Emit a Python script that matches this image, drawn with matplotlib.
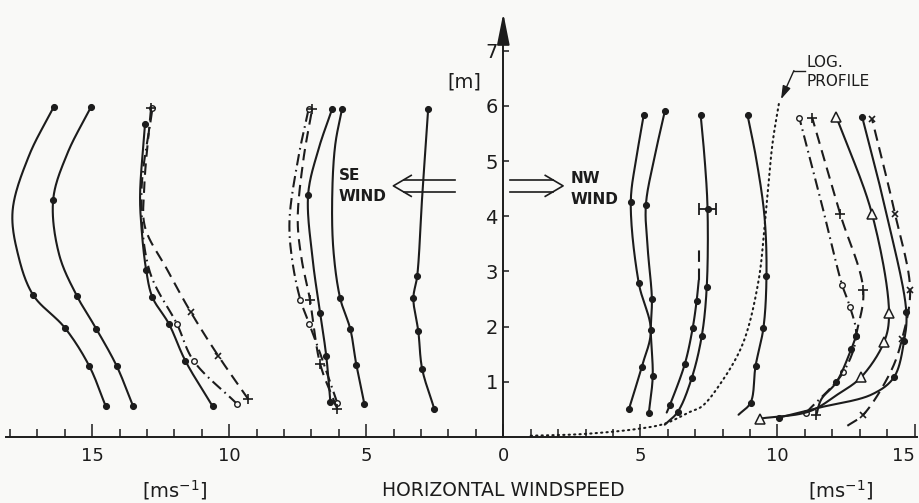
import numpy as np
import matplotlib.pyplot as plt

# heights [m] and windspeeds [m/s]
# SE wind profiles (drawn to the left of the height axis)
se1_h = [0.55, 1.28, 1.98, 2.57, 3.3, 4.1, 5.1, 5.98]
se1_u = [14.5, 15.1, 16.0, 17.15, 17.7, 17.9, 17.3, 16.4]
se1_pt = [1, 1, 1, 1, 0, 0, 0, 1]

se2_h = [0.55, 1.28, 1.96, 2.55, 3.3, 4.3, 5.14, 5.98]
se2_u = [13.5, 14.1, 14.85, 15.55, 16.2, 16.42, 15.9, 15.04]
se2_pt = [1, 1, 1, 1, 0, 1, 0, 1]

se3_h = [0.55, 1.38, 2.05, 2.53, 3.03, 3.8, 4.4, 5.67]
se3_u = [10.6, 11.6, 12.2, 12.8, 13.03, 13.2, 13.25, 13.07]
se3_pt = [1, 1, 1, 1, 1, 0, 0, 1]

se4_h = [0.59, 1.38, 2.04, 3.0, 4.4, 5.96]
se4_u = [9.7, 11.3, 11.9, 12.9, 13.2, 12.8]
se4_pt = [1, 1, 1, 0, 0, 1]

se5_h = [0.68, 1.47, 2.26, 3.03, 3.8, 4.5, 5.96]
se5_u = [9.3, 10.4, 11.4, 12.26, 13.07, 13.1, 12.85]
se5_pt = [1, 0, 0, 0, 0, 0, 1]
se5_x = [0, 1, 1, 0, 0, 0, 0]

se6_h = [0.64, 1.47, 2.24, 3.2, 4.39, 5.2, 5.95]
se6_u = [6.31, 6.46, 6.68, 6.95, 7.12, 6.75, 6.24]
se6_pt = [1, 1, 1, 0, 1, 0, 1]

se7_h = [0.6, 1.3, 1.95, 2.51, 3.4, 4.4, 5.3, 5.95]
se7_u = [5.07, 5.36, 5.58, 5.95, 6.2, 6.24, 6.13, 5.88]
se7_pt = [1, 1, 1, 1, 0, 0, 0, 1]

se8_h = [0.62, 1.4, 2.05, 2.48, 3.2, 3.92, 5.0, 5.95]
se8_u = [6.06, 6.6, 7.08, 7.4, 7.7, 7.8, 7.5, 7.1]
se8_pt = [1, 0, 1, 1, 0, 0, 0, 1]

se9_h = [0.51, 1.32, 2.48, 3.2, 3.92, 5.0, 5.95]
se9_u = [6.06, 6.68, 7.05, 7.35, 7.5, 7.3, 6.97]
se9_pt = [1, 1, 1, 0, 0, 0, 1]

se10_h = [0.51, 1.23, 1.91, 2.51, 2.92, 4.35, 5.95]
se10_u = [2.52, 2.96, 3.1, 3.28, 3.14, 2.96, 2.74]
se10_pt = [1, 1, 1, 1, 1, 0, 1]

# NW wind profiles (drawn to the right)
nw1_h = [0.5, 1.27, 1.93, 2.79, 4.26, 5.1, 5.83]
nw1_u = [4.58, 5.05, 5.38, 4.94, 4.65, 4.87, 5.12]
nw1_pt = [1, 1, 1, 1, 1, 0, 1]

nw2_h = [0.44, 1.1, 1.93, 2.5, 3.4, 4.2, 5.1, 5.9]
nw2_u = [5.31, 5.45, 5.38, 5.42, 5.27, 5.2, 5.53, 5.89]
nw2_pt = [1, 1, 0, 1, 0, 1, 0, 1]

nw3_h = [0.22, 0.45, 1.06, 1.83, 2.71, 4.13, 5.0, 5.83]
nw3_u = [5.89, 6.36, 6.87, 7.24, 7.42, 7.45, 7.35, 7.2]
nw3_pt = [0, 1, 1, 1, 1, 1, 0, 1]
nw3_err = 0.3   # +- at 4.13 m

nw4_h = [0.44, 0.57, 1.32, 1.98, 2.46, 2.84]
nw4_u = [5.96, 6.07, 6.62, 6.91, 7.05, 7.13]
nw4_pt = [0, 1, 1, 1, 1, 0]
nw4_gap_h = [2.84, 3.39]
nw4_gap_u = [7.13, 7.13]

nw5_h = [0.4, 0.62, 1.28, 1.98, 2.92, 3.98, 5.0, 5.83]
nw5_u = [8.58, 9.02, 9.2, 9.49, 9.6, 9.53, 9.24, 8.91]
nw5_pt = [0, 1, 1, 1, 1, 0, 0, 1]

log_h = [0.02, 0.05, 0.15, 0.24, 0.45, 0.55, 0.95, 1.68, 2.8, 3.98, 5.32, 6.09]
log_u = [1.0, 2.9, 5.0, 5.9, 6.8, 7.24, 7.9, 8.73, 9.3, 9.56, 9.82, 10.07]

nw6_h = [0.44, 1.17, 1.83, 2.35, 2.75, 4.17, 5.78]
nw6_u = [11.05, 12.4, 12.87, 12.65, 12.36, 11.64, 10.8]
nw6_pt = [1, 1, 1, 1, 1, 0, 1]

nw7_h = [1.83, 2.66, 4.04, 5.78]
nw7_u = [12.87, 13.13, 12.29, 11.27]
nw7_pt = [0, 1, 1, 1]
nw7_low_h = [0.4, 0.68, 0.99, 1.6, 1.83]
nw7_low_u = [11.42, 11.6, 12.15, 12.7, 12.87]
nw7_low_pt = [0, 0, 1, 1, 1]
nw7_low_plus = [1, 0, 0, 0, 0]

nw8_h = [0.33, 0.46, 0.77, 1.08, 1.72, 2.24, 4.04, 5.8]
nw8_u = [9.35, 11.16, 12.2, 13.05, 13.89, 14.07, 13.45, 12.15]
nw8_pt = [1, 0, 0, 1, 1, 1, 1, 1]

nw9_h = [0.35, 0.53, 0.77, 1.08, 1.74, 2.27, 4.04, 5.8]
nw9_u = [10.07, 11.53, 13.45, 14.25, 14.62, 14.7, 13.98, 13.09]
nw9_pt = [1, 0, 0, 1, 1, 1, 0, 1]

nw10_h = [0.2, 0.4, 1.2, 1.78, 2.66, 4.04, 5.76]
nw10_u = [12.55, 13.13, 14.15, 14.55, 14.84, 14.29, 13.45]
nw10_pt = [0, 1, 0, 1, 1, 1, 1]

x_major = [-15, -10, -5, 0, 5, 10, 15]
x_minor = list(range(-18, 16))
y_ticks = [1, 2, 3, 4, 5, 6, 7]

INK = '#1c1c1c'
BG = '#f9f9f7'

fig = plt.figure(figsize=(9.2, 5.03), dpi=100, facecolor=BG)
ax = fig.add_axes([0, 0, 1, 1], facecolor=BG)
ax.set_xlim(-18.36, 15.2)
ax.set_ylim(-1.2, 7.92)


def smooth(x, y, n=24):
    # centripetal catmull-rom through the read points, done in pixel space
    pts = ax.transData.transform(np.column_stack([x, y]))
    P = np.vstack([2 * pts[0] - pts[1], pts, 2 * pts[-1] - pts[-2]])
    out = []
    for i in range(1, len(P) - 2):
        p0, p1, p2, p3 = P[i - 1:i + 3]
        t0 = 0.0
        t1 = t0 + np.linalg.norm(p1 - p0) ** 0.5
        t2 = t1 + np.linalg.norm(p2 - p1) ** 0.5
        t3 = t2 + np.linalg.norm(p3 - p2) ** 0.5
        t = np.linspace(t1, t2, n)[:, None]
        a1 = (t1 - t) / (t1 - t0) * p0 + (t - t0) / (t1 - t0) * p1
        a2 = (t2 - t) / (t2 - t1) * p1 + (t - t1) / (t2 - t1) * p2
        a3 = (t3 - t) / (t3 - t2) * p2 + (t - t2) / (t3 - t2) * p3
        b1 = (t2 - t) / (t2 - t0) * a1 + (t - t0) / (t2 - t0) * a2
        b2 = (t3 - t) / (t3 - t1) * a2 + (t - t1) / (t3 - t1) * a3
        c = (t2 - t) / (t2 - t1) * b1 + (t - t1) / (t2 - t1) * b2
        out.append(c)
    return ax.transData.inverted().transform(np.vstack(out))


MARK = {
    'dot': dict(marker='o', ms=4.3, mfc=INK, mec=INK, mew=0.8),
    'circle': dict(marker='o', ms=4.0, mfc=BG, mec=INK, mew=1.0),
    'plus': dict(marker='+', ms=6.5, mec=INK, mew=1.2),
    'cross': dict(marker='x', ms=4.5, mec=INK, mew=1.2),
    'tri': dict(marker='^', ms=7, mfc=BG, mec=INK, mew=1.1),
}
LINE = {
    'solid': dict(ls='-'),
    'dash': dict(ls=(0, (5.5, 3.2))),
    'dashdot': dict(ls=(0, (5.5, 2.2, 0.8, 2.2))),
}


def profile(u, h, pts, side, line='solid', mark='dot'):
    x = side * np.asarray(u, float)
    h = np.asarray(h, float)
    c = smooth(x, h)
    ax.plot(c[:, 0], c[:, 1], color=INK, lw=1.5, solid_capstyle='round', **LINE[line])
    sel = np.asarray(pts, bool)
    if sel.any():
        ax.plot(x[sel], h[sel], ls='none', **MARK[mark])


profile(se1_u, se1_h, se1_pt, -1)
profile(se2_u, se2_h, se2_pt, -1)
profile(se3_u, se3_h, se3_pt, -1)
profile(se4_u, se4_h, se4_pt, -1, 'dashdot', 'circle')
profile(se5_u, se5_h, se5_pt, -1, 'dash', 'plus')
ax.plot(-np.array(se5_u)[np.array(se5_x, bool)], np.array(se5_h)[np.array(se5_x, bool)],
        ls='none', **MARK['cross'])
profile(se6_u, se6_h, se6_pt, -1)
profile(se7_u, se7_h, se7_pt, -1)
profile(se8_u, se8_h, se8_pt, -1, 'dashdot', 'circle')
profile(se9_u, se9_h, se9_pt, -1, 'dash', 'plus')
profile(se10_u, se10_h, se10_pt, -1)

profile(nw1_u, nw1_h, nw1_pt, 1)
profile(nw2_u, nw2_h, nw2_pt, 1)
profile(nw3_u, nw3_h, nw3_pt, 1)
ax.errorbar(nw3_u[5], nw3_h[5], xerr=nw3_err, fmt='none', ecolor=INK, elinewidth=1.3,
            capsize=4, capthick=1.3)
profile(nw4_u, nw4_h, nw4_pt, 1)
ax.plot(nw4_gap_u, nw4_gap_h, color=INK, lw=1.5, ls=(0, (5.5, 3.2)))
profile(nw5_u, nw5_h, nw5_pt, 1)

lc = smooth(np.array(log_u), np.array(log_h))
ax.plot(lc[:, 0], lc[:, 1], color=INK, lw=1.5, ls=(0, (0.6, 2.0)), dash_capstyle='round')

profile(nw6_u, nw6_h, nw6_pt, 1, 'dashdot', 'circle')
profile(nw7_u, nw7_h, nw7_pt, 1, 'dash', 'plus')
profile(nw7_low_u, nw7_low_h, nw7_low_pt, 1)
ax.plot(np.array(nw7_low_u)[np.array(nw7_low_plus, bool)],
        np.array(nw7_low_h)[np.array(nw7_low_plus, bool)], ls='none', **MARK['plus'])
profile(nw8_u, nw8_h, nw8_pt, 1, 'solid', 'tri')
profile(nw9_u, nw9_h, nw9_pt, 1)
profile(nw10_u, nw10_h, nw10_pt, 1, 'dash', 'cross')

# axes: crossing at the origin
for s in ['top', 'right']:
    ax.spines[s].set_visible(False)
ax.spines['left'].set_position(('data', 0))
ax.spines['bottom'].set_position(('data', 0))
ax.spines['left'].set_bounds(0, 7.4)
ax.spines['bottom'].set_bounds(-18.15, 15.1)
for s in ['left', 'bottom']:
    ax.spines[s].set_color(INK)
    ax.spines[s].set_linewidth(1.4)
ax.annotate('', xy=(0, 7.68), xytext=(0, 7.2),
            arrowprops=dict(arrowstyle='-|>,head_length=1.6,head_width=0.32',
                            mutation_scale=12, color=INK, lw=1.4, shrinkA=0, shrinkB=0))

ax.set_xticks(x_major)
ax.set_xticklabels([str(abs(v)) for v in x_major])
ax.set_xticks(x_minor, minor=True)
ax.set_yticks(y_ticks)
ax.tick_params(axis='x', which='major', direction='in', length=9.5, width=1.1,
               color=INK, labelsize=13, labelcolor=INK, pad=7)
ax.tick_params(axis='x', which='minor', direction='in', length=5.5, width=1.1, color=INK)
ax.tick_params(axis='y', which='major', direction='in', length=4.5, width=1.1,
               color=INK, labelsize=14, labelcolor=INK, pad=4)
# the last label sits at the picture's right edge: keep it inside
ax.get_xticklabels()[-1].set_horizontalalignment('right')

txt = dict(color=INK)
ax.text(-0.8, 6.44, '[m]', ha='right', va='center', fontsize=14, **txt)
ax.text(0, -0.98, 'HORIZONTAL WINDSPEED', ha='center', va='center', fontsize=13.5, **txt)
ax.text(-11.97, -0.97, r'$\left[\mathrm{ms^{-1}}\right]$', ha='center', va='center',
        fontsize=14, **txt)
ax.text(12.3, -0.97, r'$\left[\mathrm{ms^{-1}}\right]$', ha='center', va='center',
        fontsize=14, **txt)
ax.text(-6.0, 4.55, 'SE\nWIND', ha='left', va='center', fontsize=11,
        linespacing=1.5, fontweight='semibold', **txt)
ax.text(2.44, 4.5, 'NW\nWIND', ha='left', va='center', fontsize=11,
        linespacing=1.5, fontweight='semibold', **txt)
ax.text(11.07, 6.62, 'LOG.\nPROFILE', ha='left', va='center', fontsize=11,
        linespacing=1.35, **txt)
ax.annotate('', xy=(10.13, 6.12), xytext=(10.6, 6.64),
            arrowprops=dict(arrowstyle='-|>,head_length=0.8,head_width=0.25',
                            mutation_scale=10, color=INK, lw=1.0, shrinkA=0, shrinkB=0))
ax.plot([10.6, 11.0], [6.64, 6.64], color=INK, lw=1.0)


def open_arrow(tail, tip, y, half=0.11, head_len=0.65, head_half=0.19):
    d = np.sign(tip - tail)
    join = tip - d * head_len * 0.58
    for off in (-half, half):
        ax.plot([tail, join], [y + off, y + off], color=INK, lw=1.2)
    ax.plot([tip - d * head_len, tip, tip - d * head_len],
            [y + head_half, y, y - head_half], color=INK, lw=1.2)


open_arrow(-1.75, -4.01, 4.55)
open_arrow(0.26, 2.18, 4.55)

fig.savefig('out.png', dpi=100, facecolor=BG)
